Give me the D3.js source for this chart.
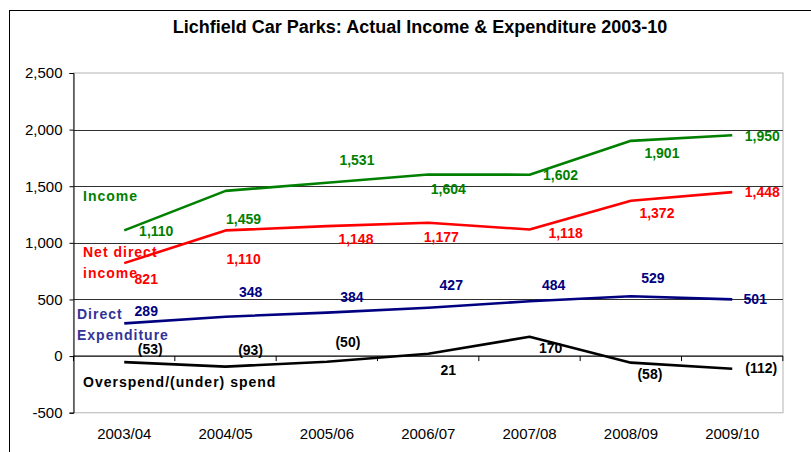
<!DOCTYPE html>
<html>
<head>
<meta charset="utf-8">
<script src="https://cdn.jsdelivr.net/npm/d3@7"></script>
<style>
  body { margin: 0; background: #fff; }
  svg { display: block; font-family: "Liberation Sans", Arial, sans-serif; }
</style>
</head>
<body>
<svg id="chart" width="811" height="452"></svg>
<script>
// Financial years on the x axis
const years = ["2003/04", "2004/05", "2005/06", "2006/07", "2007/08", "2008/09", "2009/10"];

// Values in £000s
const income            = [1110, 1459, 1531, 1604, 1602, 1901, 1950];
const netDirectIncome   = [821, 1110, 1148, 1177, 1118, 1372, 1448];
const directExpenditure = [289, 348, 384, 427, 484, 529, 501];
const overUnderSpend    = [-53, -93, -50, 21, 170, -58, -112];

// Value axis ticks
const yTicks = [-500, 0, 500, 1000, 1500, 2000, 2500];

// Data label nudges (dx, dy) away from each point
const incomeNudge  = [[32, 6], [18, 33], [30, -18], [20, 20], [31, 5], [31, 17], [30, 6]];
const netNudge     = [[22, 21], [18, 34], [29, 18], [13, 19], [36, 9], [26, 17], [30, 5]];
const expendNudge  = [[22, -7], [25, -20], [25, -11], [23, -18], [24, -11], [22, -13], [23, 5]];
const overNudge    = [[26, -8], [25, -12], [21, -15], [20, 21], [21, 16], [19, 16], [29, 4]];

const svg = d3.select("#chart");
const plotLeft = 73.5, plotRight = 783, plotTop = 73, plotBottom = 412.7;

// Number format with a plain hyphen for negatives
const commas = d3.formatLocale({ decimal: ".", thousands: ",", grouping: [3], currency: ["£", ""], minus: "-" }).format(",");

// Outer chart frame
svg.append("rect")
  .attr("x", 9.5).attr("y", 10.5)
  .attr("width", 830).attr("height", 460)
  .attr("fill", "#fff").attr("stroke", "#000").attr("stroke-width", 1);

svg.append("text")
  .attr("x", 420).attr("y", 33)
  .attr("text-anchor", "middle")
  .attr("font-size", 18).attr("font-weight", "bold")
  .text("Lichfield Car Parks: Actual Income & Expenditure 2003-10");

const x = d3.scalePoint().domain(years).range([plotLeft + 50.75, plotRight - 50.75]);
const y = d3.scaleLinear().domain([-500, 2500]).range([plotBottom, plotTop]);

// Plot area border
svg.append("rect")
  .attr("x", plotLeft).attr("y", plotTop)
  .attr("width", plotRight - plotLeft).attr("height", plotBottom - plotTop)
  .attr("fill", "none").attr("stroke", "#c0c0c0").attr("stroke-width", 1.2);

// Gridlines
svg.append("g").selectAll("line")
  .data(yTicks.filter(t => t > 0 && t < 2500))
  .join("line")
  .attr("x1", plotLeft).attr("x2", plotRight)
  .attr("y1", d => Math.round(y(d)) + 0.5).attr("y2", d => Math.round(y(d)) + 0.5)
  .attr("stroke", "#303030").attr("stroke-width", 1);

// Value axis
const yAxis = svg.append("g")
  .attr("transform", `translate(${plotLeft},0)`)
  .call(d3.axisLeft(y).tickValues(yTicks).tickSize(4).tickPadding(7)
    .tickFormat(commas));
yAxis.select(".domain").attr("stroke", "#000");
yAxis.selectAll(".tick line").attr("stroke", "#000");
yAxis.selectAll("text").attr("font-size", 15).attr("fill", "#000")
  .attr("font-family", "'Liberation Sans', Arial, sans-serif");

// Category axis crossing at zero, with ticks between categories
const step = x.step();
const xAxisG = svg.append("g");
xAxisG.append("line")
  .attr("x1", plotLeft).attr("x2", plotRight)
  .attr("y1", y(0)).attr("y2", y(0))
  .attr("stroke", "#000").attr("stroke-width", 1.2);
xAxisG.selectAll("line.tk")
  .data(d3.range(years.length + 1))
  .join("line").attr("class", "tk")
  .attr("x1", i => plotLeft + i * step).attr("x2", i => plotLeft + i * step)
  .attr("y1", y(0)).attr("y2", y(0) + 5)
  .attr("stroke", "#000");
svg.append("g").selectAll("text")
  .data(years)
  .join("text")
  .attr("x", d => x(d)).attr("y", 439)
  .attr("text-anchor", "middle")
  .attr("font-size", 15)
  .text(d => d);

const series = [
  { values: overUnderSpend, color: "#000000", nudge: overNudge, fmt: v => v < 0 ? `(${commas(Math.abs(v))})` : commas(v) },
  { values: directExpenditure, color: "#000080", nudge: expendNudge, fmt: commas },
  { values: netDirectIncome, color: "#ff0000", nudge: netNudge, fmt: commas },
  { values: income, color: "#008000", nudge: incomeNudge, fmt: commas }
];

const line = d3.line().x((d, i) => x(years[i])).y(d => y(d));

series.forEach(s => {
  svg.append("path")
    .datum(s.values)
    .attr("d", line)
    .attr("fill", "none")
    .attr("stroke", s.color)
    .attr("stroke-width", 2.6)
    .attr("stroke-linejoin", "round");
});

series.forEach(s => {
  svg.append("g").selectAll("text")
    .data(s.values)
    .join("text")
    .attr("x", (d, i) => x(years[i]) + s.nudge[i][0])
    .attr("y", (d, i) => y(d) + s.nudge[i][1])
    .attr("text-anchor", "middle")
    .attr("font-size", 14).attr("font-weight", "bold")
    .attr("fill", s.color)
    .text(d => s.fmt(d));
});

// Series names placed beside the lines
const names = [
  { lines: ["Income"], x: 83, y: 201, color: "#008000" },
  { lines: ["Net direct", "income"], x: 83, y: 257, color: "#ff0000" },
  { lines: ["Direct", "Expenditure"], x: 77, y: 319, color: "#333399" },
  { lines: ["Overspend/(under) spend"], x: 83, y: 387, color: "#000000" }
];
names.forEach(n => {
  const t = svg.append("text")
    .attr("x", n.x).attr("y", n.y)
    .attr("font-size", 14).attr("font-weight", "bold")
    .attr("letter-spacing", 1)
    .attr("fill", n.color);
  n.lines.forEach((l, i) => {
    t.append("tspan").attr("x", n.x).attr("dy", i === 0 ? 0 : 20.5).text(l);
  });
});
</script>
</body>
</html>
